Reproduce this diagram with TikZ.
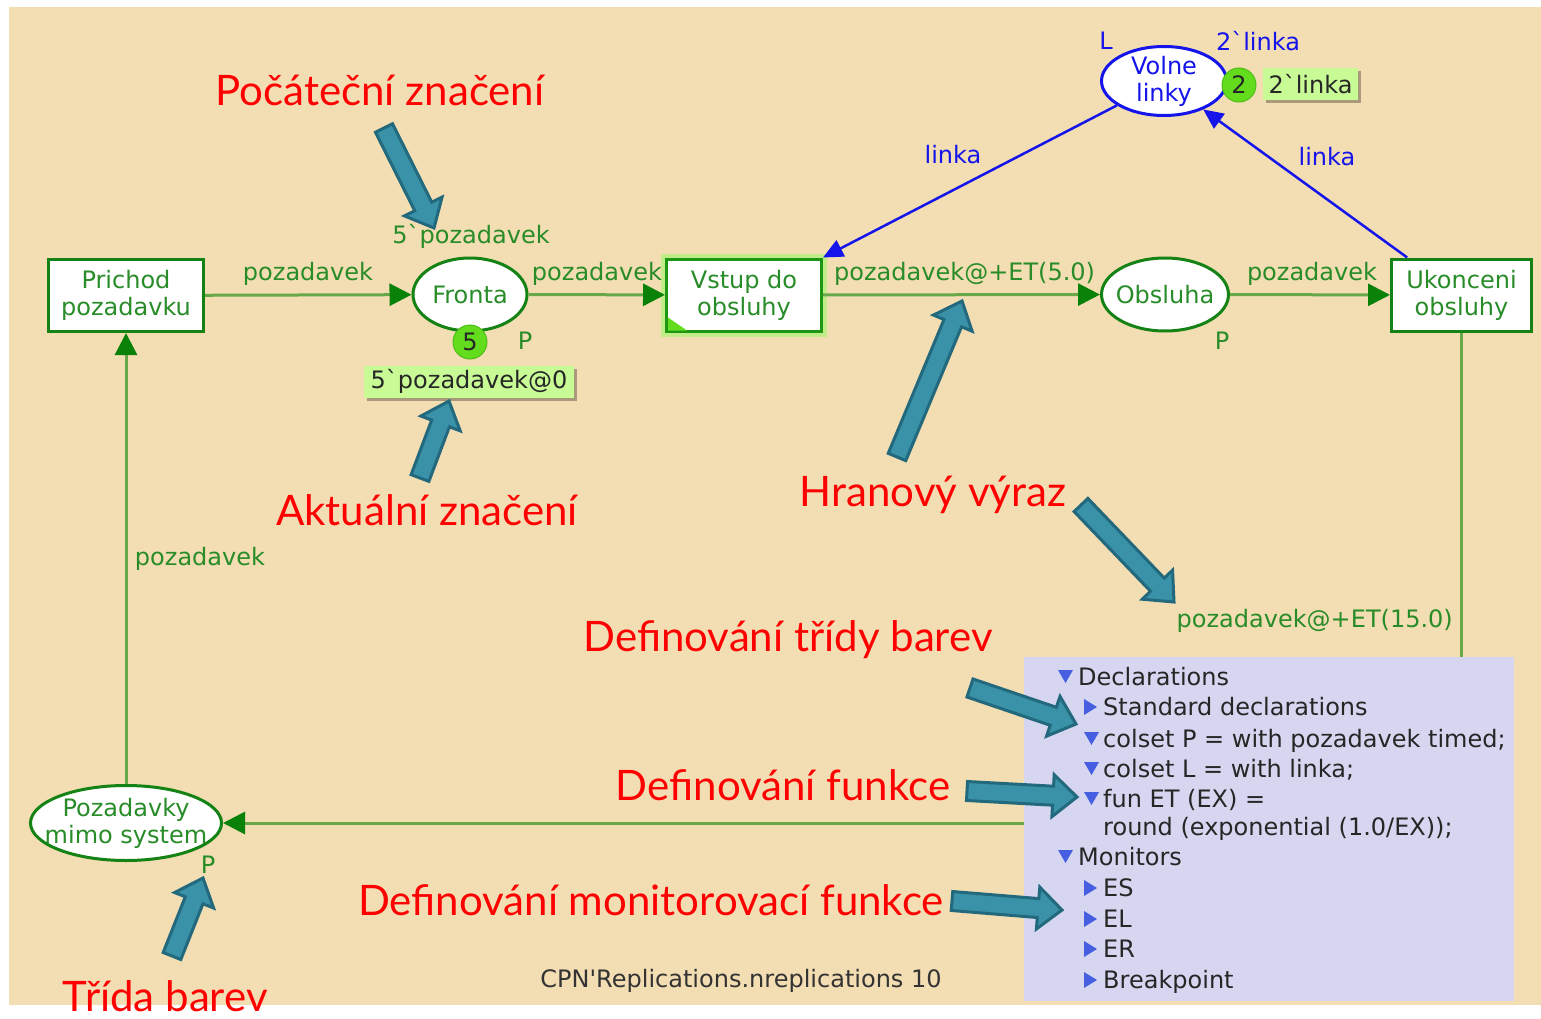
\documentclass[tikz,border=0pt]{standalone}
\usepackage{fontspec}
\usetikzlibrary{arrows.meta,calc,shapes.geometric,shadows}
\newfontfamily\notefont{Lato}
% raw font without TeX ligature mapping, so ` and ' stay as typed
\font\cpnf="DejaVu Sans" at 24pt
\newcommand\cpnfont{\fontsize{24}{27}\selectfont\cpnf}
\newcommand\notesize{\fontsize{42}{48}\selectfont\notefont}
\newcommand\bq{\char96 }

\definecolor{wheatbg}{RGB}{243,221,179}
\definecolor{panelbg}{RGB}{214,214,240}
\definecolor{cpngreen}{RGB}{20,130,20}
\definecolor{cpntext}{RGB}{40,140,40}
\definecolor{arcgreen}{RGB}{104,168,72}
\definecolor{tipgreen}{RGB}{10,130,10}
\definecolor{cpnblue}{RGB}{20,20,235}
\definecolor{tokengreen}{RGB}{100,220,30}
\definecolor{tokenedge}{RGB}{80,190,25}
\definecolor{markbg}{RGB}{200,250,150}
\definecolor{glowgreen}{RGB}{185,240,130}
\definecolor{activegreen}{RGB}{30,150,20}
\definecolor{cuefill}{RGB}{58,146,168}
\definecolor{cueline}{RGB}{35,105,125}
\definecolor{triblue}{RGB}{70,95,225}

\tikzset{
  place/.style={ellipse, draw=cpngreen, line width=3pt, fill=white, inner sep=0pt},
  trans/.style={rectangle, draw=cpngreen, line width=3pt, fill=white, text=cpntext,
    font=\cpnfont, align=center, minimum width=155pt, minimum height=72pt, inner sep=0pt},
  inscr/.style={font=\cpnfont, text=cpntext, inner sep=0pt},
  blueinscr/.style={font=\cpnfont, text=cpnblue, inner sep=0pt},
  arc/.style={draw=arcgreen, line width=3pt, -{Triangle[length=22pt,width=22pt,color=tipgreen]}},
  bluearc/.style={draw=cpnblue, line width=2.5pt, -{Triangle[length=20pt,width=18pt]}},
  token/.style={circle, fill=tokengreen, draw=tokenedge, line width=1pt, minimum size=34pt,
    inner sep=0pt, font=\cpnfont, text=black!85},
  markbox/.style={fill=markbg, inner xsep=5pt, inner ysep=0pt, minimum height=32pt,
    font=\cpnfont, text=black!85,
    drop shadow={shadow xshift=3pt, shadow yshift=-3pt, fill=black, opacity=0.3}},
  note/.style={font=\notesize, text=red, inner sep=0pt},
  cue/.style={draw=cueline, fill=cuefill, line width=3pt, line join=miter},
  decl/.style={font=\cpnfont, text=black!85, inner sep=0pt, anchor=base west},
  fold/.style={fill=triblue, draw=none},
}

% block arrow from tail #1 to tip #2
\newcommand\cuearrow[2]{%
  \coordinate (#1-h) at ($(#2)!24pt!(#1)$);
  \draw[cue] ($(#1)!9.5pt!90:(#2)$) -- ($(#1-h)!9.5pt!90:(#2)$) -- ($(#1-h)!21pt!90:(#2)$)
    -- (#2) -- ($(#1-h)!21pt!-90:(#2)$) -- ($(#1-h)!9.5pt!-90:(#2)$)
    -- ($(#1)!9.5pt!-90:(#2)$) -- cycle;}
% tree markers of the declaration panel
\newcommand\foldopen[2]{\fill[fold] (#1,#2-15) -- (#1+15,#2-15) -- (#1+7.5,#2-2) -- cycle;}
\newcommand\foldshut[2]{\fill[fold] (#1,#2-16) -- (#1+13,#2-8) -- (#1,#2) -- cycle;}

\begin{document}
\begin{tikzpicture}[x=1pt,y=-1pt]
\useasboundingbox (0,0) rectangle (1541,1019);
\fill[white] (0,0) rectangle (1541,1019);
\fill[wheatbg] (9,7) rectangle (1541,1005);

% transitions
\node[trans] (prichod) at (126,295.5) {Prichod\\pozadavku};
\node[trans, draw=activegreen, preaction={draw=glowgreen, line width=11pt, opacity=0.85}]
  (vstup) at (744,295) {Vstup do\\obsluhy};
\fill[tokengreen] ($(vstup.south west)+(3,-15)$) -- ($(vstup.south west)+(3,-2)$)
  -- ($(vstup.south west)+(22,-2)$) -- cycle;
\node[trans, minimum width=140pt] (ukonceni) at (1461.5,295) {Ukonceni\\obsluhy};

% places
\node[place, minimum width=114pt, minimum height=73pt, label={[inscr]center:Fronta}]
  (fronta) at (470,294.5) {};
\node[place, minimum width=127pt, minimum height=73pt, label={[inscr]center:Obsluha}]
  (obsluha) at (1165,294.5) {};
\node[place, draw=cpnblue, minimum width=125pt, minimum height=69pt,
  label={[blueinscr, align=center]center:Volne\\linky}] (volne) at (1164,81) {};
\node[place, minimum width=191pt, minimum height=75pt,
  label={[inscr, align=center]center:Pozadavky\\mimo system}] (mimo) at (126,823) {};

% arcs
\draw[arc] (prichod) -- (fronta);
\draw[arc] (fronta) -- (vstup);
\draw[arc] (vstup) -- (obsluha);
\draw[arc] (obsluha) -- (ukonceni);
\draw[arc] (ukonceni) |- (mimo);
\draw[arc] (mimo) -- (prichod);
\draw[bluearc] (volne) -- (vstup.north east);
\coordinate (ukout) at ($(ukonceni.north west)!0.12!(ukonceni.north east)$);
\draw[bluearc] (ukout) -- (volne);

% arc inscriptions
\node[inscr] (e1) at (308,274) {pozadavek};
\node[inscr] (e2) at (597,274) {pozadavek};
\node[inscr, anchor=west] (e3) at (834,274) {pozadavek@+ET(5.0)};
\node[inscr] (e4) at (1312,274) {pozadavek};
\node[inscr, anchor=east] (e5) at (1453,621) {pozadavek@+ET(15.0)};
\node[inscr] (e6) at (200,559) {pozadavek};
\node[blueinscr] (a1) at (953,155) {linka};
\node[blueinscr] (a2) at (1327,157) {linka};

% place inscriptions and markings
\node[inscr] (init5) at (471,236) {5\bq pozadavek};
\node[inscr] (pf) at (525,341) {P};
\node[inscr] (po) at (1222,341) {P};
\node[inscr] (pm) at (208,865) {P};
\node[blueinscr] (lv) at (1106,41) {L};
\node[blueinscr] (iv) at (1258,41) {2\bq linka};
\node[markbox, minimum width=210pt] (mark5) at (469,381.5) {5\bq pozadavek@0};
\node[markbox, minimum width=95pt] (mark2) at (1310.5,84) {2\bq linka};
\node[token] (tok5) at (470,342) {5};
\node[token] (tok2) at (1239,85) {2};

% declarations panel
\fill[panelbg] (1024,657) rectangle (1514,1001);
\foldopen{1058}{685}
\node[decl] (d0) at (1078,685) {Declarations};
\foldshut{1084}{715}
\node[decl] (d1) at (1103,715) {Standard declarations};
\foldopen{1084}{747}
\node[decl] (d2) at (1103,747) {colset P = with pozadavek timed;};
\foldopen{1084}{777}
\node[decl] (d3) at (1103,777) {colset L = with linka;};
\foldopen{1084}{807}
\node[decl] (d4) at (1103,807) {fun ET (EX) =};
\node[decl] (d5) at (1103,835) {round (exponential (1.0/EX));};
\foldopen{1058}{865}
\node[decl] (d6) at (1078,865) {Monitors};
\foldshut{1084}{896}
\node[decl] (d7) at (1103,896) {ES};
\foldshut{1084}{927}
\node[decl] (d8) at (1103,927) {EL};
\foldshut{1084}{957}
\node[decl] (d9) at (1103,957) {ER};
\foldshut{1084}{988}
\node[decl] (d10) at (1103,988) {Breakpoint};

\node[inscr, text=black!80] (rep) at (741,981) {CPN\char39 Replications.nreplications 10};

% annotations
\node[note] (n1) at (380,90) {Počáteční značení};
\node[note] (n2) at (427,510) {Aktuální značení};
\node[note] (n3) at (933,495) {Hranový výraz};
\node[note] (n4) at (788,640) {Definování třídy barev};
\node[note] (n5) at (783,785) {Definování funkce};
\node[note] (n6) at (651,900) {Definování monitorovací funkce};
\node[note] (n7) at (165,996) {Třída barev};

\coordinate (c1) at (384,128);  \coordinate (c1t) at (434,228);
\coordinate (c2) at (420,478);  \coordinate (c2t) at (449,401);
\coordinate (c3) at (897,457);  \coordinate (c3t) at (962,301);
\coordinate (c4) at (1081,505); \coordinate (c4t) at (1174,602);
\coordinate (c5) at (970,688);  \coordinate (c5t) at (1076,724);
\coordinate (c6) at (967,791);  \coordinate (c6t) at (1077,797);
\coordinate (c7) at (952,901);  \coordinate (c7t) at (1062,910);
\coordinate (c8) at (172,956);  \coordinate (c8t) at (203,878);
\cuearrow{c1}{c1t}
\cuearrow{c2}{c2t}
\cuearrow{c3}{c3t}
\cuearrow{c4}{c4t}
\cuearrow{c5}{c5t}
\cuearrow{c6}{c6t}
\cuearrow{c7}{c7t}
\cuearrow{c8}{c8t}
\end{tikzpicture}
\end{document}
